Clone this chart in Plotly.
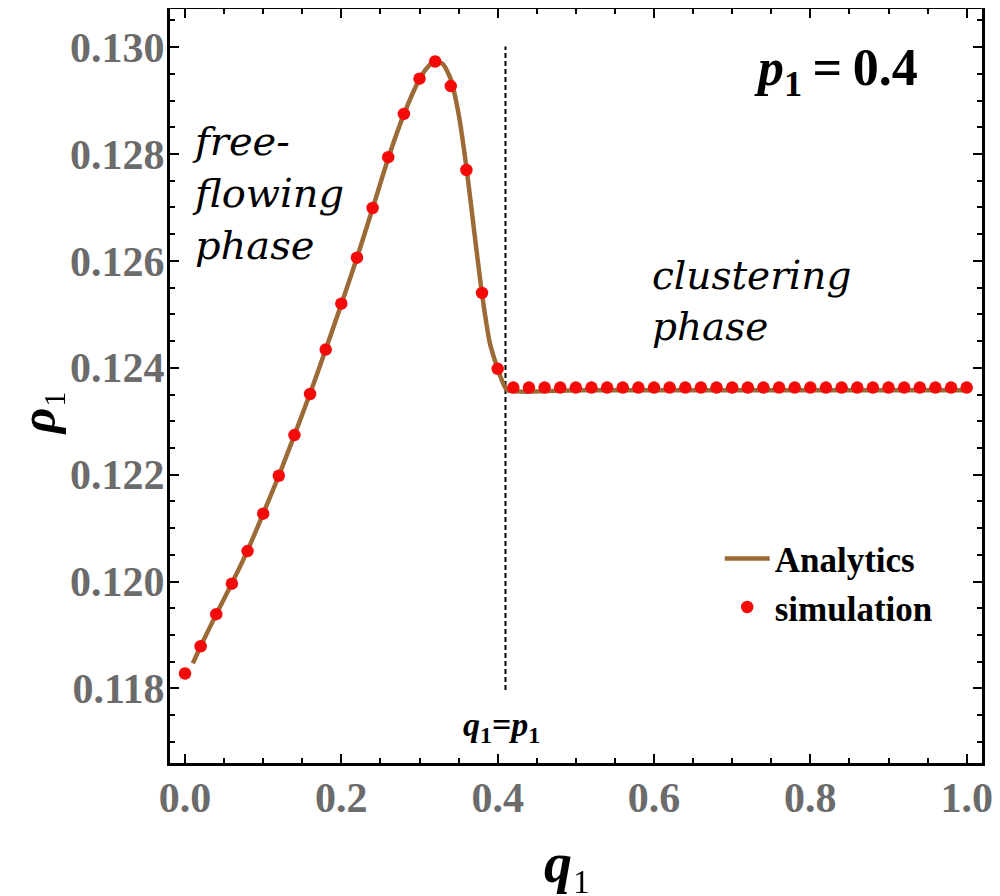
import plotly.graph_objects as go

# ---- data ----
sim_q = [0.00, 0.02, 0.04, 0.06, 0.08, 0.10, 0.12, 0.14, 0.16, 0.18,
         0.20, 0.22, 0.24, 0.26, 0.28, 0.30, 0.32, 0.34, 0.36, 0.38,
         0.40, 0.42, 0.44, 0.46, 0.48, 0.50, 0.52, 0.54, 0.56, 0.58,
         0.60, 0.62, 0.64, 0.66, 0.68, 0.70, 0.72, 0.74, 0.76, 0.78,
         0.80, 0.82, 0.84, 0.86, 0.88, 0.90, 0.92, 0.94, 0.96, 0.98, 1.00]
sim_rho = [0.11828, 0.11879, 0.11939, 0.11996, 0.12057, 0.12127, 0.12198, 0.12274, 0.12351, 0.12434,
           0.12520, 0.12606, 0.12699, 0.12794, 0.12875, 0.12941, 0.12973, 0.12927, 0.12770, 0.12540,
           0.12398, 0.12363, 0.12363, 0.12363, 0.12363, 0.12363, 0.12363, 0.12363, 0.12363, 0.12363,
           0.12363, 0.12363, 0.12363, 0.12363, 0.12363, 0.12363, 0.12363, 0.12363, 0.12363, 0.12363,
           0.12363, 0.12363, 0.12363, 0.12363, 0.12363, 0.12363, 0.12363, 0.12363, 0.12363, 0.12363, 0.12363]

ana_q = [0.01, 0.02, 0.04, 0.06, 0.08, 0.10, 0.12, 0.14, 0.16, 0.18,
         0.20, 0.22, 0.24, 0.26, 0.28, 0.30, 0.31, 0.32, 0.33, 0.34,
         0.35, 0.36, 0.37, 0.38, 0.39, 0.40, 0.405, 0.4125, 0.50, 0.60,
         0.70, 0.80, 0.90, 1.00]
ana_rho = [0.11847, 0.11879, 0.11939, 0.11997, 0.12058, 0.12127, 0.12198, 0.12274, 0.12352, 0.12434,
           0.12519, 0.12606, 0.12698, 0.12792, 0.12874, 0.12940, 0.12962, 0.12974, 0.12968, 0.12940,
           0.12875, 0.12775, 0.12655, 0.12538, 0.12446, 0.12398, 0.12378, 0.12358, 0.12358, 0.12358,
           0.12358, 0.12358, 0.12358, 0.12358]

transition_q = [0.41, 0.41]
transition_rho = [0.11797, 0.13001]

x_ticks = [0.0, 0.2, 0.4, 0.6, 0.8, 1.0]
y_ticks = [0.118, 0.120, 0.122, 0.124, 0.126, 0.128, 0.130]

# ---- figure ----
BROWN = "#9c6a36"
RED = "#f50a0a"
TICKFONT = dict(family="Liberation Serif", size=42, color="#6b6b6b", weight="bold")

fig = go.Figure()
fig.add_trace(go.Scatter(x=transition_q, y=transition_rho, mode="lines",
                         line=dict(color="black", width=2, dash="5px,3px"),
                         showlegend=False, hoverinfo="skip"))
fig.add_trace(go.Scatter(x=ana_q, y=ana_rho, mode="lines", name="Analytics",
                         line=dict(color=BROWN, width=4.5, shape="spline", smoothing=0.6)))
fig.add_trace(go.Scatter(x=sim_q, y=sim_rho, mode="markers", name="simulation",
                         marker=dict(color=RED, size=12.5)))

axis_common = dict(showgrid=False, zeroline=False, showline=True, linecolor="black",
                   linewidth=3, mirror="ticks", ticks="inside", tickcolor="black",
                   ticklen=9, tickwidth=2, tickfont=TICKFONT)

fig.update_xaxes(range=[-0.0192, 1.0196], tickvals=x_ticks,
                 ticktext=[f"{v:.1f}" for v in x_ticks],
                 minor=dict(dtick=0.05, ticks="inside", ticklen=5, tickwidth=1.5, tickcolor="black"),
                 ticklabelstandoff=-4, automargin=False, **axis_common)
fig.update_yaxes(range=[0.116605, 0.130713], tickvals=y_ticks,
                 ticktext=[f"{v:.3f}" for v in y_ticks],
                 minor=dict(dtick=0.0005, tick0=0.118, ticks="inside", ticklen=5, tickwidth=1.5, tickcolor="black"),
                 ticklabelstandoff=-6, automargin=False, **axis_common)

ann = []
# axis titles
ann.append(dict(text="<b><i>ρ</i></b>\u2081", xref="paper", yref="paper", x=-0.1626, y=0.465,
                textangle=-90, showarrow=False, font=dict(family="Liberation Serif", size=50, color="black"),
                xanchor="center", yanchor="middle"))
ann.append(dict(text="<b><i>q</i></b>\u2081", xref="paper", yref="paper", x=0.490, y=-0.177,
                showarrow=False, font=dict(family="Liberation Serif", size=56, color="black"),
                xanchor="center", yanchor="bottom"))
# parameter label
ann.append(dict(text="<b><i>p</i><sub>1</sub>\u2009=\u20090.4</b>", xref="paper", yref="paper", x=0.820, y=0.917,
                showarrow=False, font=dict(family="Liberation Serif", size=52, color="black"),
                xanchor="center", yanchor="middle"))
# phase labels
ann.append(dict(text="<i>free-<br>flowing<br>phase</i>", xref="x", yref="y", x=0.0064, y=0.12727,
                showarrow=False, align="left", font=dict(family="DejaVu Serif", size=40, color="black"),
                xanchor="left", yanchor="middle"))
ann.append(dict(text="<i>clustering<br>phase</i>", xref="x", yref="y", x=0.595, y=0.12525,
                showarrow=False, align="left", font=dict(family="DejaVu Serif", size=39, color="black"),
                xanchor="left", yanchor="middle"))
# transition label
ann.append(dict(text="<b><i>q</i><sub>1</sub>=<i>p</i><sub>1</sub></b>", xref="x", yref="y", x=0.4055, y=0.117277,
                showarrow=False, font=dict(family="Liberation Serif", size=34, color="black"),
                xanchor="center", yanchor="middle"))

# the page body adds an 8px offset, so the figure is sized to the remaining window
fig.update_layout(
    width=992, height=888,
    margin=dict(l=162, r=18, t=1, b=133),
    paper_bgcolor="white", plot_bgcolor="white",
    annotations=ann,
    legend=dict(x=0.677, y=0.31, xanchor="left", yanchor="top",
                bgcolor="rgba(0,0,0,0)", itemwidth=45,
                font=dict(family="Liberation Serif", size=35, color="black", weight="bold")),
)

fig.write_html("out.html")
